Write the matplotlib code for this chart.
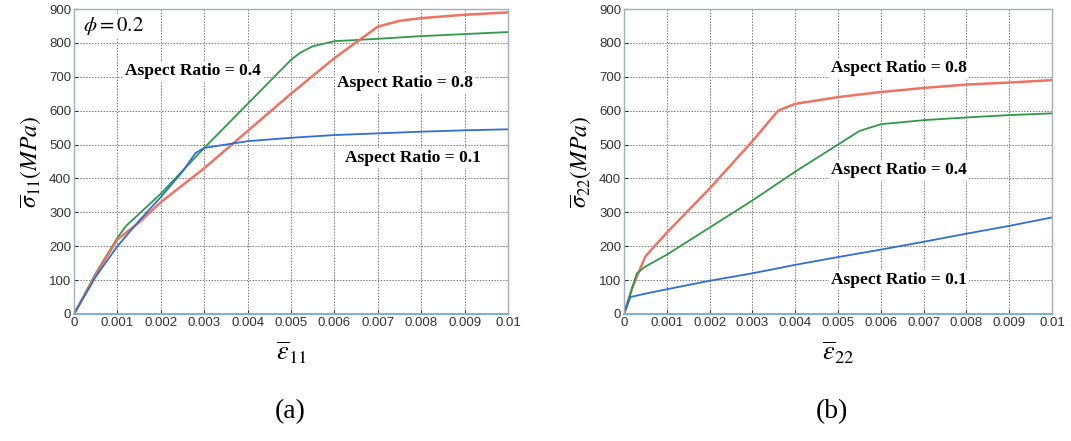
import matplotlib
matplotlib.use("Agg")
import matplotlib.pyplot as plt
import numpy as np

plt.rcParams['mathtext.fontset'] = 'stix'
plt.rcParams['font.family'] = ['Liberation Sans', 'DejaVu Sans']

# (a) sigma_11 vs eps_11
a_blue_x = [0, 0.0005, 0.001, 0.0015, 0.002, 0.0025, 0.0028, 0.003, 0.004, 0.005, 0.006, 0.007, 0.008, 0.009, 0.01]
a_blue_y = [0, 110, 200, 275, 345, 420, 475, 490, 510, 520, 528, 533, 538, 542, 545]
a_green_x = [0, 0.0005, 0.001, 0.0012, 0.002, 0.003, 0.004, 0.005, 0.0052, 0.0055, 0.006, 0.007, 0.008, 0.009, 0.01]
a_green_y = [0, 120, 225, 260, 355, 490, 620, 750, 770, 790, 805, 812, 820, 826, 832]
a_red_x = [0, 0.0005, 0.001, 0.0015, 0.002, 0.003, 0.004, 0.005, 0.006, 0.007, 0.0075, 0.008, 0.009, 0.01]
a_red_y = [0, 115, 220, 270, 330, 430, 540, 650, 755, 848, 865, 873, 883, 890]

# (b) sigma_22 vs eps_22
b_red_x = [0, 0.0002, 0.0005, 0.001, 0.002, 0.003, 0.0036, 0.004, 0.005, 0.006, 0.007, 0.008, 0.009, 0.01]
b_red_y = [0, 80, 170, 240, 370, 510, 600, 620, 640, 655, 667, 677, 683, 690]
b_green_x = [0, 0.0002, 0.0003, 0.0005, 0.001, 0.002, 0.003, 0.004, 0.005, 0.0055, 0.006, 0.007, 0.008, 0.009, 0.01]
b_green_y = [0, 80, 120, 140, 175, 255, 335, 420, 500, 540, 560, 572, 580, 587, 592]
b_blue_x = [0, 0.00015, 0.0005, 0.001, 0.002, 0.003, 0.004, 0.005, 0.006, 0.007, 0.008, 0.009, 0.01]
b_blue_y = [0, 50, 60, 73, 98, 120, 145, 168, 190, 213, 237, 260, 285]

xticks = [0, 0.001, 0.002, 0.003, 0.004, 0.005, 0.006, 0.007, 0.008, 0.009, 0.01]
xtick_labels = ["0", "0.001", "0.002", "0.003", "0.004", "0.005", "0.006", "0.007", "0.008", "0.009", "0.01"]
yticks = [0, 100, 200, 300, 400, 500, 600, 700, 800, 900]

RED = "#f07262"
GREEN = "#2e9a48"
BLUE = "#2f6fd4"

fig = plt.figure(figsize=(10.71, 4.41), dpi=100)
ax1 = fig.add_axes([74 / 1071, 1 - 314 / 441, 434 / 1071, 305 / 441])
ax2 = fig.add_axes([624 / 1071, 1 - 314 / 441, 428 / 1071, 305 / 441])


def style(ax):
    ax.set_xlim(0, 0.01)
    ax.set_ylim(0, 900)
    ax.set_xticks(xticks)
    ax.set_xticklabels(xtick_labels)
    ax.set_yticks(yticks)
    ax.tick_params(labelsize=9.5, length=3, direction="in", pad=2, colors="#333333")
    ax.grid(True, linestyle=(0, (1.5, 1.5)), color="#7a7a7a", linewidth=0.7)
    for s in ax.spines.values():
        s.set_color("#9fb0b8")
        s.set_linewidth(1.0)
    ax.spines["bottom"].set_color("#7fb0d8")
    ax.spines["bottom"].set_linewidth(1.5)


txt = dict(fontsize=12.5, fontweight="bold", family="Liberation Serif", ha="center", va="center",
           bbox=dict(facecolor="white", edgecolor="none", pad=1.5))

ax1.plot(a_green_x, a_green_y, color=GREEN, lw=1.3)
ax1.plot(a_red_x, a_red_y, color=RED, lw=1.8)
ax1.plot(a_blue_x, a_blue_y, color=BLUE, lw=1.3)
style(ax1)
ax1.text(0.00275, 717, "Aspect Ratio = 0.4", **txt)
ax1.text(0.00763, 681, "Aspect Ratio = 0.8", **txt)
ax1.text(0.0078, 460, "Aspect Ratio = 0.1", **txt)
ax1.text(0.0002, 850, r"$\phi = 0.2$", fontsize=15, va="center", ha="left",
         bbox=dict(facecolor="white", edgecolor="none", pad=0.5))
ax1.set_ylabel(r"$\overline{\sigma}_{11}(MPa)$", fontsize=17, labelpad=4)
ax1.set_xlabel(r"$\overline{\varepsilon}_{11}$", fontsize=19, labelpad=8)

ax2.plot(b_red_x, b_red_y, color=RED, lw=1.8)
ax2.plot(b_green_x, b_green_y, color=GREEN, lw=1.3)
ax2.plot(b_blue_x, b_blue_y, color=BLUE, lw=1.3)
style(ax2)
ax2.text(0.00643, 726, "Aspect Ratio = 0.8", **txt)
ax2.text(0.00643, 425, "Aspect Ratio = 0.4", **txt)
ax2.text(0.00643, 100, "Aspect Ratio = 0.1", **txt)
ax2.set_ylabel(r"$\overline{\sigma}_{22}(MPa)$", fontsize=17, labelpad=4)
ax2.set_xlabel(r"$\overline{\varepsilon}_{22}$", fontsize=19, labelpad=8)

fig.text(290 / 1071, 1 - 412 / 441, "(a)", fontsize=20, family="Liberation Serif", ha="center", va="center")
fig.text(832 / 1071, 1 - 412 / 441, "(b)", fontsize=20, family="Liberation Serif", ha="center", va="center")

fig.savefig("out.png", dpi=100)
